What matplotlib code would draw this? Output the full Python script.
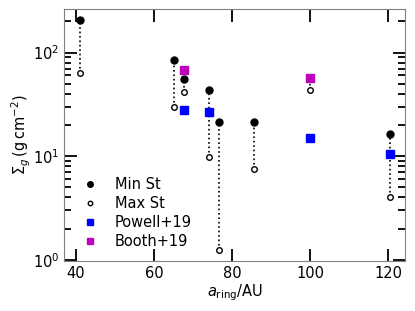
import numpy as np
from matplotlib import pyplot as plt

# ring radii (AU) and gas surface densities
a_ring = [41.0, 65.0, 67.7, 74.1, 76.7, 85.5, 100.0, 120.3]
sigma_min_st = [205.0, 85.6, 55.7, 43.9, 21.4, 21.4, 56.5, 16.2]
sigma_max_st = [64.0, 29.6, 42.0, 9.8, 1.25, 7.57, 43.9, 4.0]

powell_a = [67.7, 74.1, 100.0, 120.3]
powell_sigma = [27.9, 26.5, 14.9, 10.6]

booth_a = [67.7, 100.0]
booth_sigma = [67.5, 56.5]

plt.rcParams['font.size'] = 10.5

fig, ax = plt.subplots(figsize=(4.15, 3.11), dpi=100)

for a, lo, hi in zip(a_ring, sigma_max_st, sigma_min_st):
	ax.plot([a, a], [lo, hi], ls=':', color='k', lw=1.2, zorder=1)

ax.plot(a_ring, sigma_min_st, 'o', color='k', ms=5, label='Min St', zorder=2)
ax.plot(a_ring, sigma_max_st, 'o', mfc='white', mec='k', mew=1, ms=4, label='Max St', zorder=2)
ax.plot(powell_a, powell_sigma, 's', color='b', ms=5.2, label='Powell+19', zorder=3)
ax.plot(booth_a, booth_sigma, 's', color='m', ms=5.2, label='Booth+19', zorder=3)

ax.set_yscale('log')
ax.set_xticks([40, 60, 80, 100, 120])
ax.set_xlabel(r'$a_{\rm ring}$/AU', labelpad=1)
ax.set_ylabel(r'$\Sigma_g\,(\mathrm{g\,cm^{-2}})$', labelpad=0)

ax.tick_params(which='both', direction='in', top=True, right=True, width=1.3)
ax.tick_params(which='major', length=9)
ax.tick_params(which='minor', length=5)
ax.tick_params(axis='x', which='minor', top=False, bottom=False)
for sp in ax.spines.values():
	sp.set_color('grey')

ax.legend(loc='lower left', frameon=False, handlelength=1.0, handletextpad=1.2,
	  markerscale=0.8, bbox_to_anchor=(0.015, -0.005), labelspacing=0.28)

fig.subplots_adjust(left=0.155, right=0.976, top=0.972, bottom=0.16)
fig.savefig('out.png')
